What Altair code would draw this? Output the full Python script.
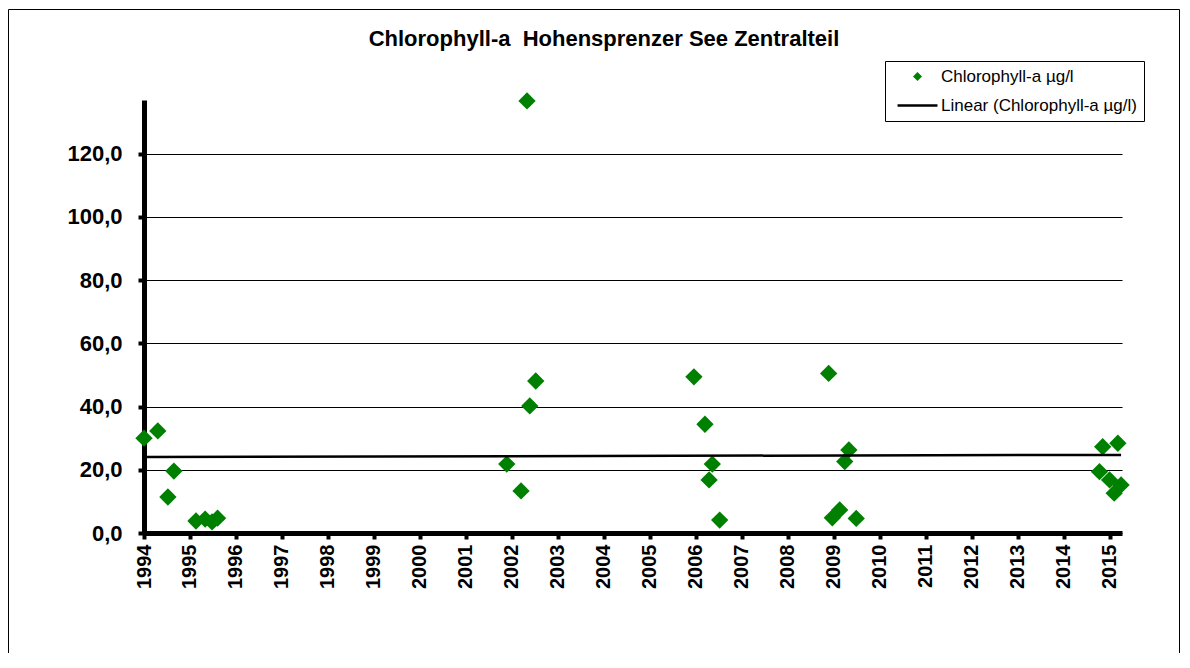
import altair as alt
import pandas as pd

# ---- data ----
years = [1994.00, 1994.30, 1994.52, 1994.65, 1995.13, 1995.33, 1995.48, 1995.60,
         2001.89, 2002.20, 2002.33, 2002.39, 2002.52,
         2005.96, 2006.20, 2006.36, 2006.29, 2006.52,
         2008.89, 2009.33, 2009.24, 2009.13, 2008.97, 2009.49,
         2014.85, 2015.18, 2014.78, 2015.00, 2015.25, 2015.10]
values = [30.0, 32.3, 11.4, 19.6, 3.8, 4.4, 3.5, 4.7,
          21.8, 13.3, 136.7, 40.2, 48.1,
          49.4, 34.4, 21.8, 16.8, 4.1,
          50.5, 26.3, 22.6, 7.3, 4.8, 4.6,
          27.3, 28.4, 19.4, 16.8, 15.2, 12.6]
year_ticks = list(range(1994, 2016))
y_ticks = [0, 20, 40, 60, 80, 100, 120]
series_point = "Chlorophyll-a µg/l"
series_line = "Linear (Chlorophyll-a µg/l)"
title_text = "Chlorophyll-a\u00a0 Hohensprenzer See Zentralteil"

df = pd.DataFrame({"year": years, "value": values,
                   "series": [series_point] * len(years)})

DIAMOND = "M0,-1L1,0L0,1L-1,0Z"
LINE = "M-4.44,-0.28L4.44,-0.28L4.44,0.28L-4.44,0.28Z"
FONT = "Liberation Sans"

x_scale = alt.Scale(domain=[1994, 2015.27], nice=False, zero=False)
y_scale = alt.Scale(domain=[0, 137], nice=False)

x_axis = alt.Axis(values=year_ticks, format="d", labelAngle=-90, title=None, grid=False,
                  domainWidth=5, domainColor="black", tickColor="black", tickWidth=4,
                  tickSize=6, labelFont=FONT, labelFontWeight="bold", labelFontSize=20,
                  labelPadding=5, labelColor="black", labelOverlap=False, labelFlush=False)
y_axis = alt.Axis(values=y_ticks, labelExpr="replace(format(datum.value, '.1f'), '.', ',')",
                  title=None, grid=True, gridColor="black", gridWidth=1,
                  domainWidth=5, domainColor="black", tickColor="black", tickWidth=4,
                  tickSize=6, labelFont=FONT, labelFontWeight="bold", labelFontSize=22,
                  labelPadding=16, labelColor="black")

legend = alt.Legend(orient="none", legendX=741, legendY=-39, title=None,
                    strokeColor="black", fillColor="white", padding=7,
                    symbolSize=81, symbolOffset=17, labelOffset=15,
                    labelFont=FONT, labelFontSize=17, labelColor="black",
                    rowPadding=11, symbolStrokeWidth=0, labelLimit=400)

dom = [series_point, series_line]

points = alt.Chart(df).mark_point(filled=True, size=300, opacity=1).encode(
    x=alt.X("year:Q", scale=x_scale, axis=x_axis),
    y=alt.Y("value:Q", scale=y_scale, axis=y_axis),
    color=alt.Color("series:N", scale=alt.Scale(domain=dom, range=["#008000", "#000000"]),
                    legend=legend),
    shape=alt.Shape("series:N", scale=alt.Scale(domain=dom, range=[DIAMOND, LINE]),
                    legend=legend),
)

trend = alt.Chart(df).transform_regression("year", "value").mark_line(
    color="black", strokeWidth=2.5).encode(
    x=alt.X("year:Q", scale=x_scale),
    y=alt.Y("value:Q", scale=y_scale),
)

border = alt.Chart(pd.DataFrame({"a": [0]})).mark_rect(
    fillOpacity=0, stroke="black", strokeWidth=1).encode(
    x=alt.value(-135.5), x2=alt.value(1035.5), y=alt.value(-90.5), y2=alt.value(640))

chart = alt.layer(border, points, trend).properties(
    width=978, height=433,
    title=alt.Title(title_text, font=FONT, fontSize=22, fontWeight="bold",
                    anchor="middle", frame="group", offset=-42, dx=-29, color="black"),
    autosize=alt.AutoSizeParams(type="none"),
    padding={"left": 136, "top": 92, "right": 58, "bottom": 120},
    background="white",
).configure_view(strokeWidth=0)

chart.save("out.html", embed_options={"renderer": "svg", "actions": False})
